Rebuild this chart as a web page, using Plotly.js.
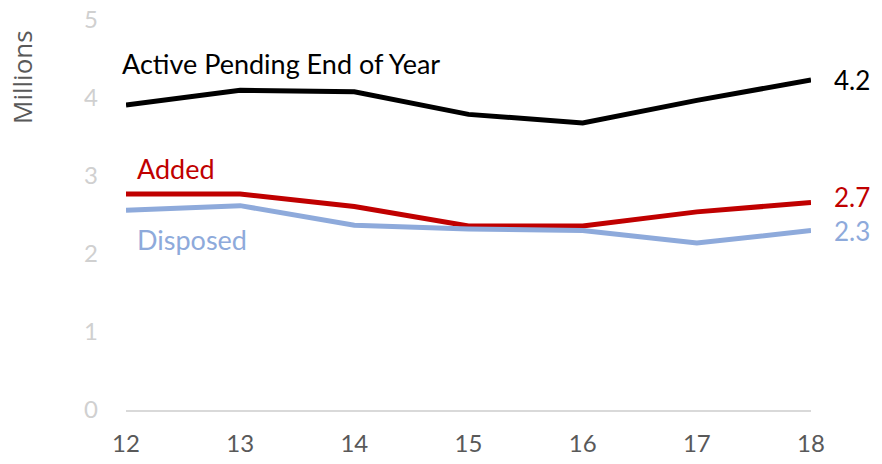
<!DOCTYPE html>
<html><head><meta charset="utf-8">
<script src="https://cdn.plot.ly/plotly-3.0.1.min.js"></script>
<style>html,body{margin:0;padding:0;background:#fff}#chart{width:882px;height:464px}</style>
</head><body><div id="chart"></div>
<script>
const years = [12, 13, 14, 15, 16, 17, 18];
const activePending = [3.91, 4.10, 4.08, 3.79, 3.68, 3.97, 4.23];
const added = [2.77, 2.77, 2.61, 2.36, 2.36, 2.54, 2.66];
const disposed = [2.56, 2.62, 2.37, 2.32, 2.30, 2.14, 2.30];
const seriesNames = ["Active Pending End of Year", "Added", "Disposed"];
const yTicks = [0, 1, 2, 3, 4, 5];

const FONT = "Lato, 'Open Sans', sans-serif";
const colors = ["#000000", "#c00000", "#8eaadb"];
const all = [activePending, added, disposed];

const traces = all.map((v, i) => ({
  x: years, y: v, type: "scatter", mode: "lines", name: seriesNames[i],
  line: {color: colors[i], width: 5}, cliponaxis: false, hoverinfo: "none"
}));

const last = years[years.length - 1];
const n = years.length - 1;
const annotations = [
  {x: years[0], y: 4.44, xref: "x", yref: "y", text: seriesNames[0], showarrow: false, xanchor: "left", xshift: -6, font: {family: FONT, size: 27, color: "#000"}},
  {x: years[0], y: 3.1, xref: "x", yref: "y", text: seriesNames[1], showarrow: false, xanchor: "left", xshift: 9, font: {family: FONT, size: 27, color: colors[1]}},
  {x: years[0], y: 2.18, xref: "x", yref: "y", text: seriesNames[2], showarrow: false, xanchor: "left", xshift: 9, font: {family: FONT, size: 27, color: colors[2]}},
  {x: last, y: activePending[n], xref: "x", yref: "y", text: activePending[n].toFixed(1), showarrow: false, xanchor: "left", xshift: 21, font: {family: FONT, size: 26, color: "#000"}},
  {x: last, y: added[n], xref: "x", yref: "y", text: added[n].toFixed(1), showarrow: false, xanchor: "left", xshift: 21, yshift: 6, font: {family: FONT, size: 26, color: colors[1]}},
  {x: last, y: disposed[n], xref: "x", yref: "y", text: disposed[n].toFixed(1), showarrow: false, xanchor: "left", xshift: 21, yshift: 0, font: {family: FONT, size: 26, color: colors[2]}},
  {x: (22 - 126) / (811 - 126), y: (410 - 77) / (410 - 20), xref: "paper", yref: "paper", xanchor: "center", yanchor: "middle", text: "Millions", showarrow: false, textangle: -90, font: {family: "'Open Sans', sans-serif", size: 26, color: "#595959"}}
];

const layout = {
  width: 882, height: 464,
  margin: {l: 126, r: 71, t: 20, b: 54},
  paper_bgcolor: "#fff", plot_bgcolor: "#fff",
  showlegend: false,
  xaxis: {range: [12, 18], tickvals: years, ticktext: years.map(String), showgrid: false, zeroline: false,
    showline: true, linecolor: "#d9d9d9", linewidth: 2, ticks: "", ticklabelstandoff: 11,
    tickfont: {family: FONT, size: 24, color: "#595959"}},
  yaxis: {range: [0, 5], tickvals: yTicks, ticktext: yTicks.map(String), showgrid: false, zeroline: false,
    showline: false, ticks: "", ticklabelstandoff: 27,
    tickfont: {family: FONT, size: 24, color: "#d0d0d0"}},
  annotations: annotations
};
Plotly.newPlot("chart", traces, layout, {displayModeBar: false, staticPlot: true});
</script></body></html>
